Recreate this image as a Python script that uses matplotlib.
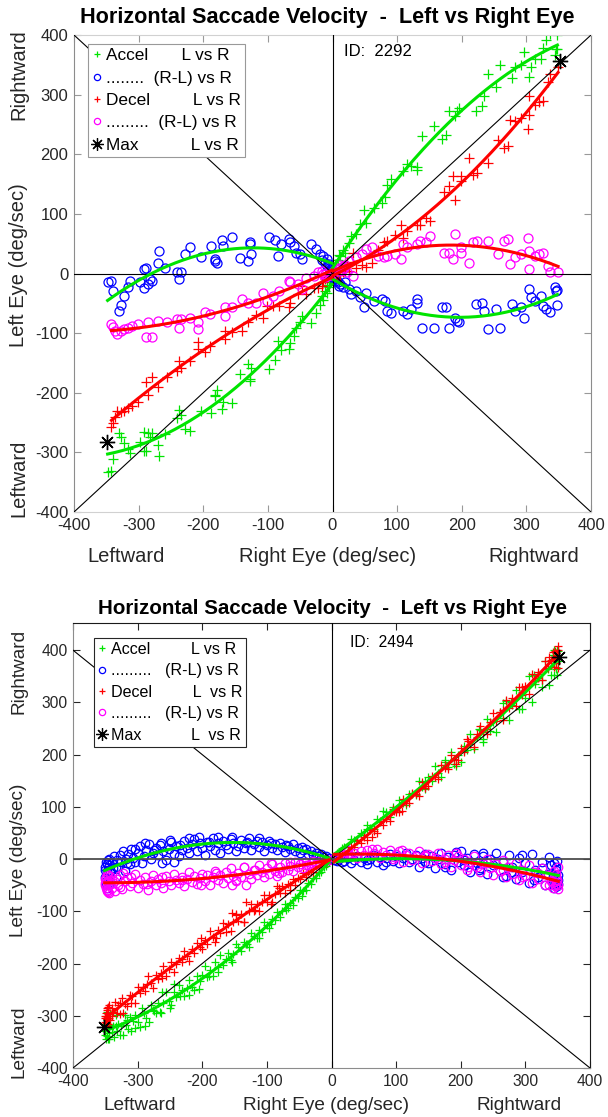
import numpy as np
import matplotlib
matplotlib.use("Agg")
import matplotlib.pyplot as plt
from matplotlib.lines import Line2D

plt.rcParams['font.family'] = ['Liberation Sans', 'DejaVu Sans']
plt.rcParams['axes.unicode_minus'] = False

# ---------------- Subject 2292 ----------------
# (right eye velocity, right - left velocity) for accelerating samples
acc_2292 = [
    (-348, -15), (-340, -29), (-331, -63), (-327, -53), (-343, -12), (-322, -37), (-313, -12), (-316, -22),
    (-298, -15), (-291, 7), (-288, 10), (-283, -9), (-280, -12), (-291, -25), (-286, -18), (-268, 38),
    (-270, 17), (-259, 10), (-241, 2), (-238, -9), (-235, 3), (-228, 32), (-220, 44), (-203, 27),
    (-188, 46), (-182, 24), (-178, 18), (-182, 21), (-171, 56), (-170, 46), (-156, 62), (-143, 26),
    (-131, 21), (-128, 49), (-126, 32), (-128, 52), (-99, 61), (-89, 56), (-84, 30), (-80, 49),
    (-68, 58), (-65, 52), (-59, 46), (-57, 35), (-50, 32), (-47, 24), (-33, 50), (-26, 41),
    (-20, 32), (-14, 30), (-8, 24), (-6, 16), (-5, 10), (-4, 7),
    (4, -12), (10, -21), (16, -23), (25, -26), (28, -35), (37, -29), (43, -40), (52, -32),
    (49, -57), (64, -46), (76, -43), (82, -46), (85, -63), (91, -67), (109, -63), (115, -68),
    (121, -60), (130, -43), (130, -49), (139, -91), (157, -91), (169, -56), (175, -57), (181, -91),
    (190, -74), (193, -79), (196, -82), (222, -51), (232, -49), (235, -63), (241, -93), (253, -60),
    (259, -91), (277, -51), (283, -63), (292, -57), (296, -75), (304, -26), (307, -40), (313, -46),
    (322, -37), (325, -54), (331, -60), (337, -65), (344, -23), (346, -30), (348, -28), (347, -53),
    (1, -2), (2, -5), (-1, 3), (-3, 5), (3, -8), (6, -10), (-2, 6), (8, -15),
    (12, -18), (-8, 12), (-12, 18), (-16, 22), (20, -15), (0, 0),
]
# (right eye velocity, right - left velocity) for decelerating samples
dec_2292 = [
    (-342, -84), (-340, -89), (-336, -96), (-333, -102), (-328, -96), (-323, -93), (-316, -91), (-310, -88),
    (-301, -85), (-289, -107), (-280, -107), (-286, -82), (-270, -79), (-256, -82), (-241, -77), (-238, -91),
    (-235, -77), (-220, -74), (-208, -82), (-208, -93), (-197, -65), (-190, -68), (-167, -71), (-167, -57),
    (-155, -57), (-140, -43), (-131, -49), (-119, -49), (-107, -32), (-101, -46), (-92, -37), (-83, -29),
    (-68, -12), (-65, -15), (-53, -18), (-47, -26), (-41, -7), (-29, -4), (-23, 2), (-17, 4), (-11, -1),
    (7, 7), (16, 13), (25, 21), (31, -4), (37, 27), (46, 32), (52, 41), (61, 44),
    (70, 30), (79, 27), (85, 30), (97, 32), (106, 24), (109, 49), (115, 44), (130, 49),
    (136, 55), (151, 63), (145, 52), (172, 35), (181, 35), (187, 24), (190, 66), (199, 44),
    (199, 35), (211, 18), (217, 52), (223, 55), (241, 55), (256, 32), (265, 55), (271, 58),
    (274, 16), (283, 27), (292, 32), (302, 60), (304, 38), (313, 30), (319, 32), (325, 35),
    (334, 13), (337, 2), (349, 2), (304, 7),
    (1, 1), (-1, -1), (3, 4), (-3, -3), (5, 8), (-5, -2), (8, 10), (10, 5),
    (-8, -5), (12, 14), (-12, -6), (15, 6), (18, 10), (-15, 0), (20, 15), (22, 3),
]
max_2292_r = [-349, 352]
max_2292_l = [-282, 356]

# ---------------- Subject 2494 ----------------
acc_2494 = [
    (-350, -20), (-349, -5), (-348, -40), (-347, -55), (-346, -30), (-345, -12), (-344, 0), (-343, -25),
    (-342, -48), (-340, -8), (-338, -18), (-336, 5), (-334, -35), (-332, -2), (-330, -15), (-328, 8),
    (-325, -5), (-322, 15), (-320, -22), (-318, 0), (-315, 10), (-312, -10), (-310, 20), (-307, 3),
    (-304, -5), (-300, 12), (-297, 25), (-294, -8), (-290, 5), (-287, 18), (-283, 28), (-280, 0),
    (-276, 12), (-272, 22), (-268, 8), (-264, 30), (-260, 15), (-256, -2), (-252, 20), (-248, 32),
    (-244, 10), (-240, 25), (-236, 5), (-232, 18), (-228, 35), (-224, 22), (-220, 12), (-216, 28),
    (-212, 38), (-208, 15), (-204, 30), (-200, 22), (-196, 8), (-192, 33), (-188, 25), (-184, 40),
    (-180, 18), (-176, 30), (-172, 12), (-168, 35), (-164, 27), (-160, 20), (-156, 38), (-152, 30),
    (-148, 15), (-144, 25), (-140, 36), (-136, 22), (-132, 30), (-128, 40), (-124, 18), (-120, 28),
    (-116, 35), (-112, 24), (-108, 32), (-104, 16), (-100, 27), (-96, 35), (-92, 22), (-88, 28),
    (-84, 18), (-80, 30), (-76, 24), (-72, 14), (-68, 26), (-64, 20), (-60, 28), (-56, 16),
    (-52, 22), (-48, 12), (-44, 18), (-40, 20), (-36, 10), (-32, 15), (-28, 8), (-24, 12),
    (-20, 6), (-16, 9), (-12, 4), (-8, 6), (-4, 2),
    (-351, -15), (-350, -35), (-349, -48), (-348, -10), (-347, -22), (-346, -2), (-345, -45),
    (-304, 20), (-289, 30), (-274, 17), (-265, 27), (-250, 36), (-235, 27), (-220, 40), (-205, 43),
    (-190, 33), (-175, 42), (-154, 43), (-130, 33), (-112, 40), (-94, 30), (-70, 27), (-46, 24),
    (-244, -5), (-262, -8), (-334, -15), (-316, -8),
    (4, -2), (8, -4), (12, 0), (16, -6), (20, -3), (25, 2), (30, -8), (35, -2),
    (40, 5), (45, -5), (50, 3), (55, -10), (60, 0), (65, 8), (70, -6), (75, 4),
    (80, -12), (85, 2), (90, 10), (95, -4), (100, 6), (105, -8), (110, 3), (115, 12),
    (120, -5), (125, 0), (130, 8), (135, -15), (140, 2), (145, 10), (150, -8), (155, 5),
    (160, -18), (165, 0), (170, 12), (175, -10), (180, 4), (185, -20), (190, 8), (195, -5),
    (200, 15), (205, -12), (210, 2), (215, -25), (220, 10), (225, -8), (230, -18), (235, 5),
    (240, -28), (245, 0), (250, -12), (255, 12), (260, -22), (265, -5), (270, -32), (275, 8),
    (280, -15), (285, -38), (290, 2), (295, -25), (300, -8), (305, -45), (310, 10), (315, -20),
    (320, -35), (325, -5), (330, -50), (335, -28), (340, -12), (342, -42), (345, -55), (347, -20),
    (348, -35), (349, -3), (350, -48),
    (351, -40), (350, -30), (349, -52), (348, -15), (346, -45), (344, -8), (343, -33),
    (145, -5), (175, -15), (205, -2), (229, -21), (265, -34), (277, -24), (313, -40), (325, -18),
    (337, 4), (343, -47), (235, 11), (193, 14), (295, 8), (85, -5), (55, -2),
]
dec_2494 = [
    (-350, -45), (-349, -35), (-348, -60), (-347, -28), (-346, -50), (-345, -40), (-344, -65), (-342, -33),
    (-340, -55), (-338, -45), (-335, -62), (-332, -38), (-330, -50), (-327, -30), (-324, -58), (-320, -42),
    (-316, -35), (-312, -52), (-308, -45), (-304, -28), (-300, -55), (-296, -40), (-292, -48), (-288, -35),
    (-284, -60), (-280, -42), (-276, -30), (-272, -50), (-268, -38), (-264, -45), (-260, -55), (-256, -32),
    (-252, -42), (-248, -50), (-244, -28), (-240, -40), (-236, -46), (-232, -34), (-228, -52), (-224, -38),
    (-220, -25), (-216, -44), (-212, -32), (-208, -48), (-204, -36), (-200, -28), (-196, -42), (-192, -30),
    (-188, -50), (-184, -35), (-180, -22), (-176, -40), (-172, -30), (-168, -45), (-164, -25), (-160, -36),
    (-156, -18), (-152, -32), (-148, -42), (-144, -26), (-140, -35), (-136, -15), (-132, -50), (-128, -28),
    (-124, -38), (-120, -20), (-116, -30), (-112, -12), (-108, -25), (-104, -35), (-100, -18), (-96, -28),
    (-92, -10), (-88, -22), (-84, -32), (-80, -15), (-76, -25), (-72, -8), (-68, -20), (-64, -14),
    (-60, -22), (-56, -6), (-52, -16), (-48, -10), (-44, -18), (-40, -5), (-36, -12), (-32, -8),
    (-28, -3), (-24, -10), (-20, -5), (-16, -2), (-12, -6), (-8, -1), (-4, -2),
    (-351, -50), (-350, -38), (-349, -55), (-348, -42), (-347, -62), (-346, -30),
    (-340, -40), (-328, -53), (-310, -34), (-286, -47), (-262, -34), (-232, -40), (-202, -50), (-178, -27),
    (-148, -40), (-136, -15), (-118, -21), (-94, -8), (-82, -27), (-64, -5), (-40, -12), (-346, -63),
    (-322, -27), (-154, -50),
    (4, 2), (8, 5), (12, 3), (16, 8), (20, 4), (25, 10), (30, 6), (35, 12),
    (40, 3), (45, 15), (50, 8), (55, 18), (60, 5), (65, 12), (70, 20), (75, 2),
    (80, 14), (85, 8), (90, 18), (95, 0), (100, 10), (105, 15), (110, -5), (115, 8),
    (120, 12), (125, -2), (130, 5), (135, 15), (140, -8), (145, 6), (150, 10), (155, -4),
    (160, 2), (165, 12), (170, -10), (175, 0), (180, 8), (185, -15), (190, -2), (195, 5),
    (200, -12), (205, 0), (210, -20), (215, -6), (220, 5), (225, -15), (230, -25), (235, -8),
    (240, 0), (245, -18), (250, -30), (255, -10), (260, -22), (265, -2), (270, -35), (275, -15),
    (280, -28), (285, -8), (290, -40), (295, -20), (300, -32), (305, -12), (310, -45), (315, -25),
    (320, -38), (325, -18), (330, -50), (335, -30), (340, -42), (342, -55), (345, -22), (347, -48),
    (348, -35), (350, -58), (350, -15),
    (351, -50), (349, -40), (348, -28), (346, -52), (344, -35),
    (26, 17), (62, 20), (109, 17), (145, 8), (175, -5), (211, -15), (241, -8), (265, -21),
    (295, -34), (319, -27), (337, -50), (349, -40), (193, 11), (97, 4),
]
max_2494_r = [-352, 352]
max_2494_l = [-321, 386]

TICKS = list(range(-400, 401, 100))
GREEN = '#00e400'
RED = '#ff0000'
BLUE = '#0000ff'
MAGENTA = '#ff00ff'

W, H = 608, 1117
fig = plt.figure(figsize=(W / 100, H / 100), dpi=100)


def fx(px):
    return px / W


def fy(py):
    return 1 - py / H


def side_fits(ax, r, l, color):
    # separate quadratic fits for leftward (R<0) and rightward (R>=0) saccades
    for mask in (r < 0, r >= 0):
        rs, ls_ = r[mask], l[mask]
        p = np.polyfit(rs, ls_, 2)
        xs = np.linspace(rs.min(), rs.max(), 150)
        ax.plot(xs, np.polyval(p, xs), color=color, lw=2.2, zorder=4)
        ax.plot(xs, xs - np.polyval(p, xs), color=color, lw=2.2, zorder=4)


def panel(ax, acc, dec, max_r, max_l, ylim, ident, s, frame_dark):
    acc = np.array(acc, dtype=float)
    dec = np.array(dec, dtype=float)
    ra, rla = acc[:, 0], acc[:, 1]
    rd, rld = dec[:, 0], dec[:, 1]
    la = ra - rla
    ld = rd - rld

    kw_plus = dict(ls='none', marker='+', ms=6.5 * s, mew=0.9)
    kw_circ = dict(ls='none', marker='o', ms=6.5 * s, mew=0.9, mfc='none')
    ax.plot(ra, la, color=GREEN, zorder=2, **kw_plus)
    ax.plot(ra, rla, color=BLUE, zorder=2, **kw_circ)
    ax.plot(rd, ld, color=RED, zorder=2, **kw_plus)
    ax.plot(rd, rld, color=MAGENTA, zorder=2, **kw_circ)

    # reference lines
    ax.plot([-400, 400], [-400, 400], color='k', lw=0.8, zorder=3)
    ax.plot([-400, 400], [400, -400], color='k', lw=0.8, zorder=3)
    ax.axvline(0, color='k', lw=0.8, zorder=3)
    ax.axhline(0, color='k' if not frame_dark else '0.3', lw=0.8 if not frame_dark else 1.3, zorder=3)

    side_fits(ax, ra, la, GREEN)
    side_fits(ax, rd, ld, RED)

    ax.plot(max_r, max_l, ls='none', marker=(8, 2, 0), ms=11, mew=1.0, color='k', zorder=5)

    ax.set_xlim(-400, 400)
    ax.set_ylim(*ylim)
    ax.set_xticks(TICKS)
    ax.set_yticks(TICKS)
    ax.tick_params(direction='in', length=5, top=True, right=True,
                   labelsize=12 * s, labelcolor='0.15', pad=4)
    if frame_dark:
        for side in ('top', 'right'):
            ax.spines[side].set_color('0.1')
        for side in ('left', 'bottom'):
            ax.spines[side].set_color('0.55')
        ax.tick_params(color='0.15')
    else:
        for side in ('top', 'bottom'):
            ax.spines[side].set_color('0.82')
        for side in ('left', 'right'):
            ax.spines[side].set_color('0.55')
        ax.tick_params(color='0.6')
    for sp in ax.spines.values():
        sp.set_linewidth(0.8)

    ax.text(ident[0], ident[1], ident[2], fontsize=12 * s, color='k', va='center', ha='left')


ax1 = fig.add_axes([fx(74), fy(512), fx(517), 477 / H])
panel(ax1, acc_2292, dec_2292, max_2292_r, max_2292_l, (-400, 400),
      (18, 372, 'ID:  2292'), 1.0, False)

ax2 = fig.add_axes([fx(73), fy(1068), fx(517), 445 / H])
panel(ax2, acc_2494, dec_2494, max_2494_r, max_2494_l, (-400, 452),
      (28, 414, 'ID:  2494'), 0.94, True)


def legend(ax, labels, anchor, s, edge, spacing):
    handles = [
        Line2D([], [], ls='none', marker='+', color=GREEN, ms=5, mew=0.9),
        Line2D([], [], ls='none', marker='o', color=BLUE, mfc='none', ms=4.5, mew=0.9),
        Line2D([], [], ls='none', marker='+', color=RED, ms=5, mew=0.9),
        Line2D([], [], ls='none', marker='o', color=MAGENTA, mfc='none', ms=4.5, mew=0.9),
        Line2D([], [], ls='none', marker=(8, 2, 0), color='k', ms=9, mew=0.9),
    ]
    leg = ax.legend(handles, labels, loc='upper left', bbox_to_anchor=anchor,
                    fontsize=12.4 * s, handlelength=0.5, handletextpad=0.3,
                    borderpad=0.25, labelspacing=spacing, borderaxespad=0,
                    frameon=True, fancybox=False, framealpha=1, edgecolor=edge)
    leg.get_frame().set_linewidth(0.8)
    leg.set_zorder(10)


legend(ax1, ['Accel       L vs R', '........  (R-L) vs R', 'Decel         L vs R',
             '.........  (R-L) vs R', 'Max           L vs R'],
       (0.027, 0.981), 1.0, '0.6', 0.42)
legend(ax2, ['Accel         L vs R', '.........   (R-L) vs R', 'Decel         L  vs R',
             '.........   (R-L) vs R', 'Max           L  vs R'],
       (0.04, 0.967), 0.94, '0.15', 0.4)

# titles and axis captions
title = 'Horizontal Saccade Velocity  -  Left vs Right Eye'
fig.text(fx(327), fy(18), title, fontsize=15.6, fontweight='bold', ha='center', va='center')
fig.text(fx(333), fy(609), title, fontsize=14.8, fontweight='bold', ha='center', va='center')

cap = dict(color='0.15', ha='center', va='center')
for (xl, xc, xr, yb), s in (((126, 328, 534, 556), 14.5), ((140, 326, 519, 1106), 13.7)):
    fig.text(fx(xl), fy(yb), 'Leftward', fontsize=s, **cap)
    fig.text(fx(xc), fy(yb), 'Right Eye (deg/sec)', fontsize=s, **cap)
    fig.text(fx(xr), fy(yb), 'Rightward', fontsize=s, **cap)
for (yt, yc, ybot), s in (((75, 265, 478), 14.5), ((671, 860, 1042), 13.7)):
    fig.text(fx(19), fy(yt), 'Rightward', fontsize=s, rotation=90, **cap)
    fig.text(fx(19), fy(yc), 'Left Eye (deg/sec)', fontsize=s, rotation=90, **cap)
    fig.text(fx(19), fy(ybot), 'Leftward', fontsize=s, rotation=90, **cap)

fig.savefig('out.png', dpi=100)
